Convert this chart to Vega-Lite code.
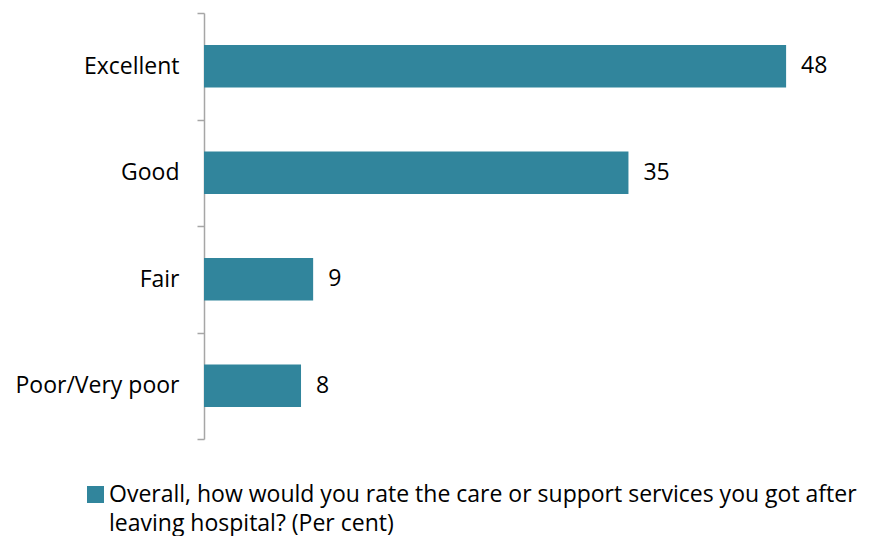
{
  "$schema": "https://vega.github.io/schema/vega-lite/v6.json",
  "width": 667,
  "height": 426,
  "padding": {"left": 14, "top": 2, "right": 0, "bottom": 0},
  "autosize": {"type": "pad"},
  "background": "white",
  "config": {
    "view": {"stroke": null},
    "font": "Open Sans",
    "style": {"guide-label": {"lineHeight": 29}}
  },
  "data": {
    "values": [
      {"rating": "Excellent", "pct": 48, "series": "Overall, how would you rate the care or support services you got after|leaving hospital? (Per cent)"},
      {"rating": "Good", "pct": 35, "series": "Overall, how would you rate the care or support services you got after|leaving hospital? (Per cent)"},
      {"rating": "Fair", "pct": 9, "series": "Overall, how would you rate the care or support services you got after|leaving hospital? (Per cent)"},
      {"rating": "Poor/Very poor", "pct": 8, "series": "Overall, how would you rate the care or support services you got after|leaving hospital? (Per cent)"}
    ]
  },
  "encoding": {
    "y": {
      "field": "rating",
      "type": "nominal",
      "sort": null,
      "scale": {"paddingInner": 0, "paddingOuter": 0},
      "axis": {
        "title": null,
        "tickBand": "extent",
        "domainColor": "#A6A6A6",
        "tickColor": "#A6A6A6",
        "domainWidth": 1.5,
        "tickWidth": 1.5,
        "tickSize": 7,
        "labelFontSize": 23,
        "labelColor": "#000000",
        "labelPadding": 18
      }
    },
    "x": {"field": "pct", "type": "quantitative", "scale": {"domain": [0, 55]}, "axis": null}
  },
  "layer": [
    {
      "mark": {"type": "bar", "height": {"band": 0.4}},
      "encoding": {
        "color": {
          "field": "series",
          "type": "nominal",
          "scale": {"range": ["#31859C"]},
          "legend": {
            "title": null,
            "orient": "none",
            "legendX": -120,
            "legendY": 470,
            "symbolType": "square",
            "symbolSize": 289,
            "symbolStrokeWidth": 0,
            "labelFontSize": 23,
            "labelColor": "#000000",
            "labelLimit": 0,
            "labelExpr": "split(datum.label, '|')",
            "labelBaseline": "middle",
            "labelOffset": 2
          }
        }
      }
    },
    {
      "mark": {"type": "text", "align": "left", "dx": 15, "fontSize": 23, "color": "#000000"},
      "encoding": {"text": {"field": "pct", "type": "quantitative"}}
    }
  ]
}
